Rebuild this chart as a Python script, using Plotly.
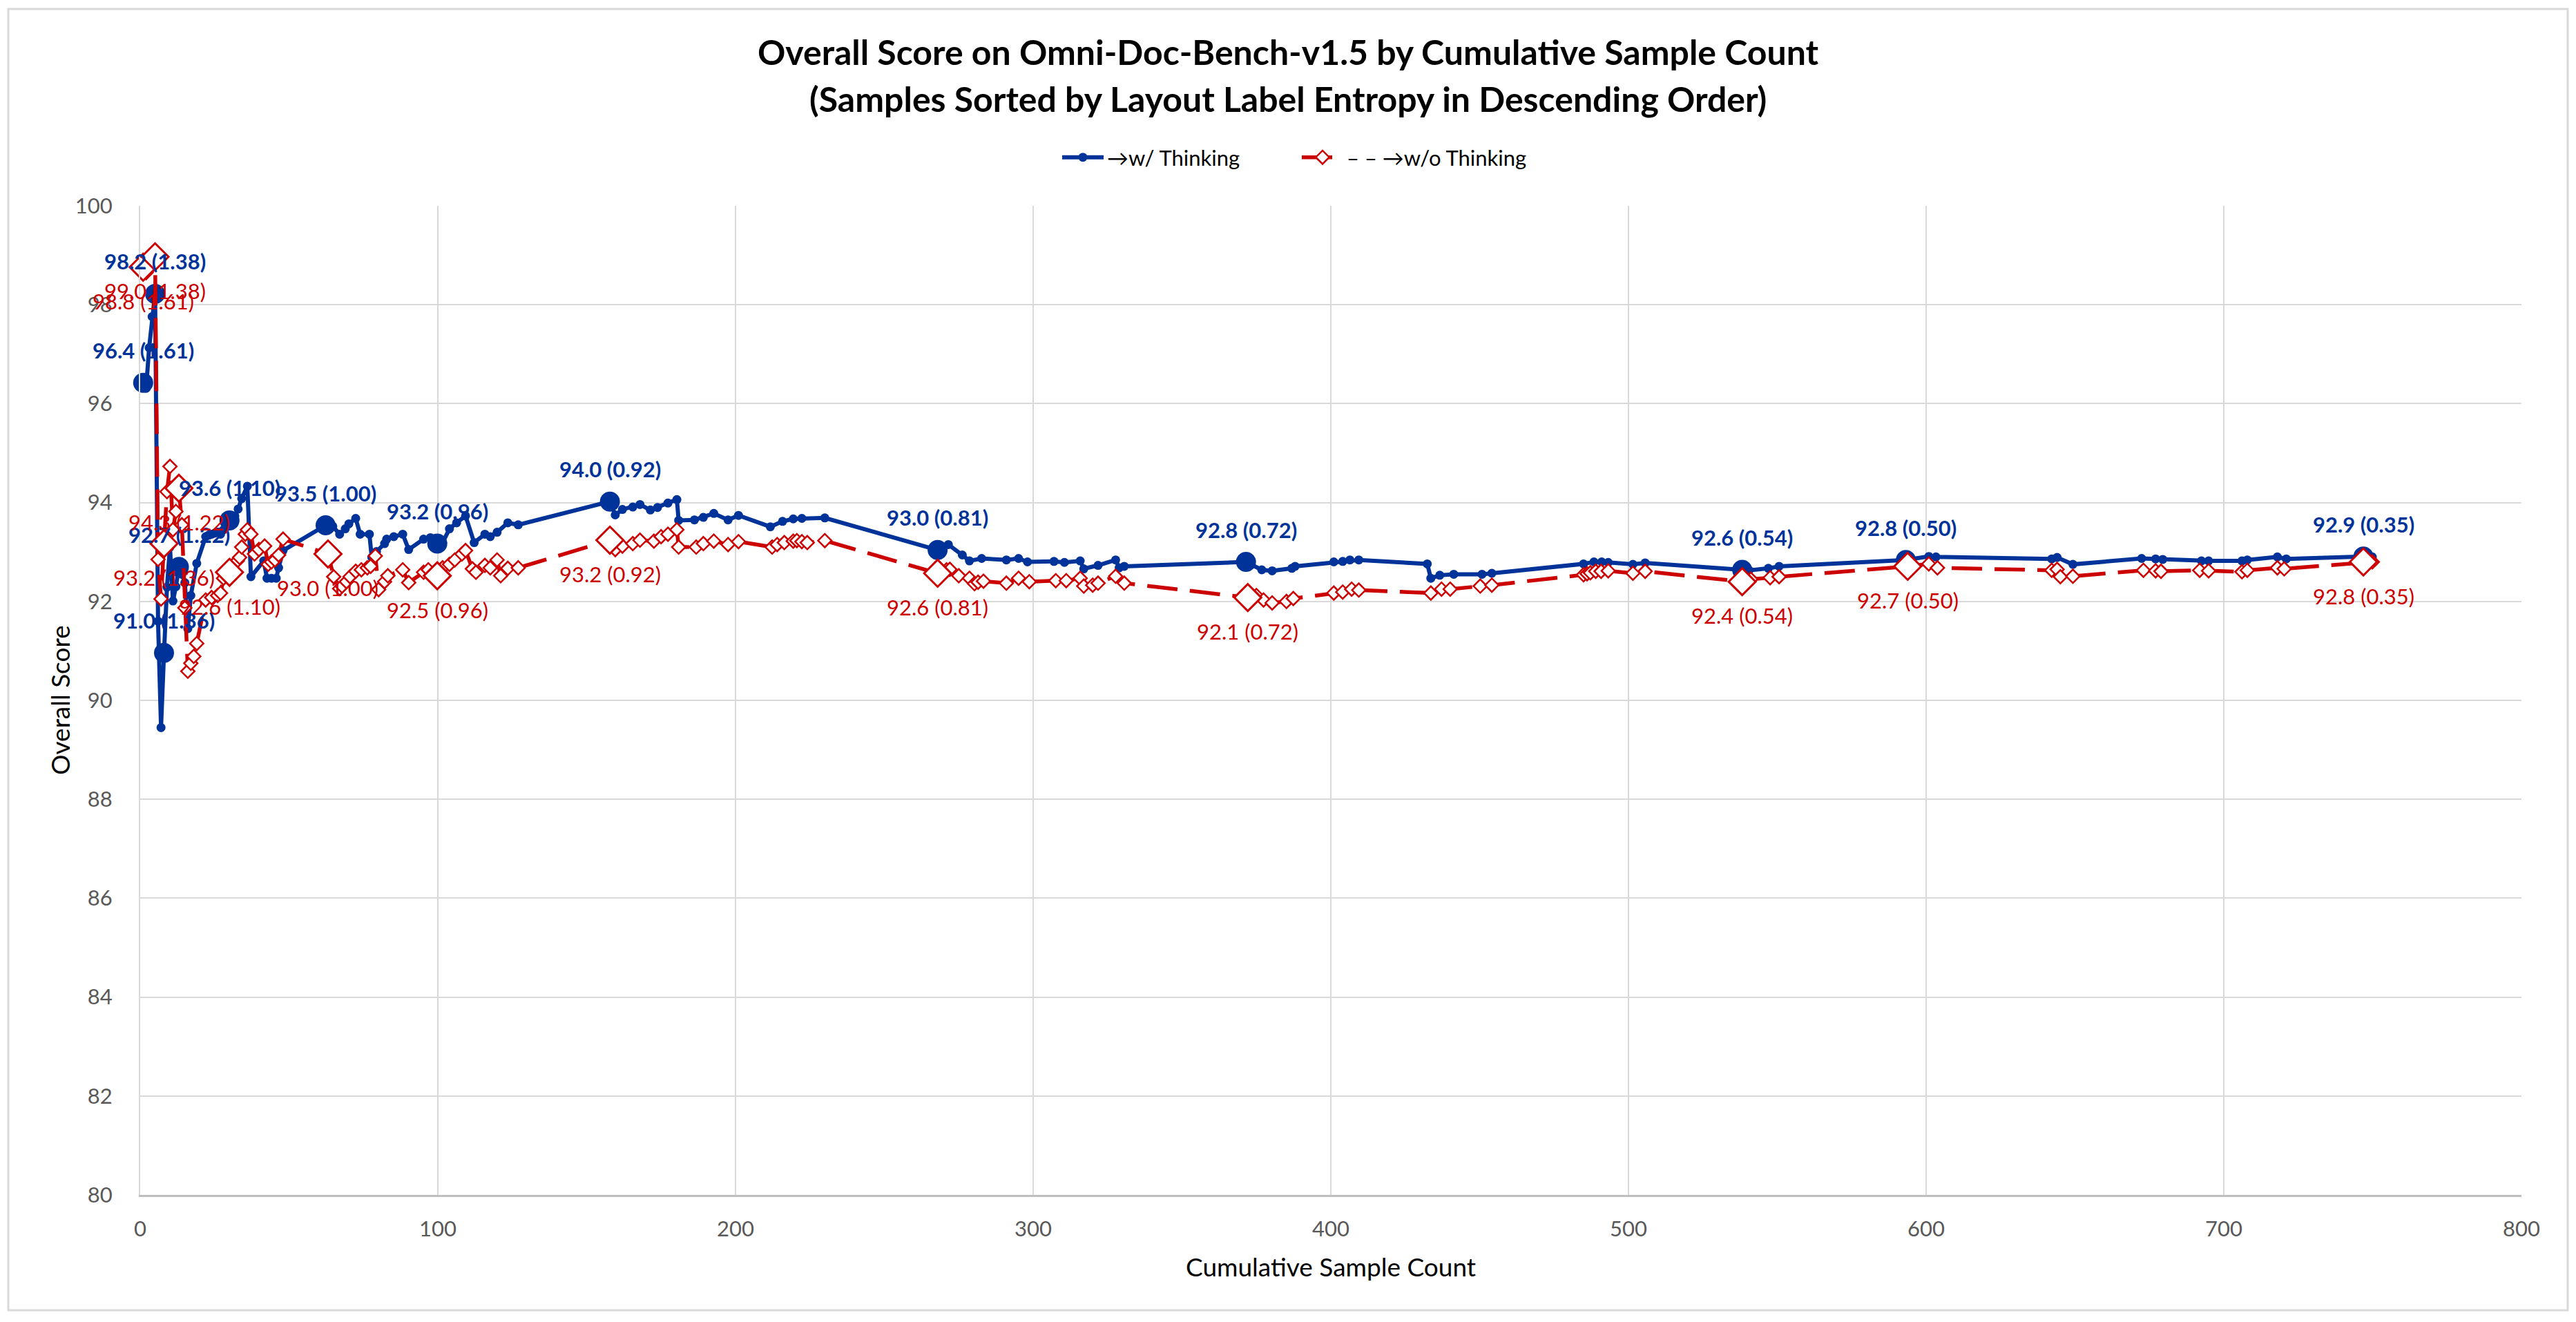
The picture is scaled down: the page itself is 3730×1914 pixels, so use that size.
import plotly.graph_objects as go

# ---------------- data ----------------
blue_x = [1, 2, 3, 4, 5, 6, 7, 8, 9, 10, 11, 12, 13, 14, 15, 16, 17, 19, 22, 23, 24, 25, 26, 27, 28, 29, 30,
          31.8, 32.9, 34.1, 36.0, 37.2, 41.5, 42.6, 44.1, 45.7, 46.5, 48.0, 62.3, 64.7, 67.0, 68.9, 70.1, 72.4,
          73.9, 77.0, 77.8, 79.4, 82.1, 82.8, 85.2, 88.2, 90.2, 95.2, 97.5, 99.8, 101.6, 103.9, 106.3, 109.3,
          112.2, 115.8, 117.6, 119.9, 123.5, 127.0, 157.8, 159.6, 162.0, 165.5, 167.9, 171.4, 173.8, 177.3,
          180.3, 180.9, 186.2, 189.2, 192.7, 197.5, 201.0, 211.7, 215.8, 219.4, 222.3, 230.0, 267.9, 271.5,
          276.2, 278.6, 282.7, 291.0, 295.1, 298.1, 307.0, 310.5, 315.8, 317.0, 321.8, 327.7, 328.9, 330.6,
          371.5, 376.8, 380.3, 386.9, 388.0, 401.0, 404.0, 406.4, 409.4, 432.4, 433.6, 436.6, 441.3, 450.8,
          454.1, 484.9, 488.4, 491.0, 493.2, 501.5, 505.6, 538.2, 540.5, 547.0, 550.6, 593.2, 600.9, 603.3,
          642.2, 644.0, 649.3, 672.4, 677.1, 679.5, 692.5, 694.9, 706.1, 707.9, 718.0, 721.0, 746.9, 749.9]
blue_y = [96.42, 96.31, 97.13, 97.76, 98.22, 91.6, 89.45, 90.96, 92.29, 93.10, 92.01, 92.30, 92.70, 92.55, 92.38,
          91.45, 92.12, 92.77, 93.31, 93.34, 93.36, 93.38, 93.40, 93.36, 93.45, 93.55, 93.64,
          93.73, 93.87, 94.08, 94.33, 92.50, 92.82, 92.47, 92.47, 92.47, 92.68, 93.03, 93.54, 93.52, 93.36, 93.47, 93.57, 93.68,
          93.36, 93.36, 92.89, 93.01, 93.17, 93.26, 93.31, 93.36, 93.05, 93.26, 93.29, 93.17, 93.19, 93.47, 93.59, 93.73,
          93.19, 93.36, 93.31, 93.40, 93.59, 93.55, 94.02, 93.75, 93.86, 93.91, 93.96, 93.85, 93.90, 93.99,
          94.06, 93.64, 93.65, 93.70, 93.78, 93.65, 93.74, 93.51, 93.62, 93.67, 93.68, 93.69, 93.04, 93.15,
          92.94, 92.82, 92.87, 92.84, 92.87, 92.80, 92.81, 92.79, 92.82, 92.66, 92.73, 92.84, 92.68, 92.71,
          92.80, 92.64, 92.62, 92.67, 92.71, 92.80, 92.81, 92.84, 92.84, 92.76, 92.47, 92.53, 92.55, 92.55,
          92.57, 92.76, 92.80, 92.80, 92.79, 92.75, 92.78, 92.64, 92.63, 92.67, 92.71, 92.84, 92.91, 92.90,
          92.86, 92.89, 92.75, 92.87, 92.86, 92.85, 92.82, 92.82, 92.82, 92.84, 92.90, 92.86, 92.91, 92.90]

red_x = [1, 2, 3, 4, 5, 6, 7, 8, 9, 10, 11, 12, 13, 14, 15, 16, 17, 18, 19, 22, 24, 26, 27, 28, 30,
         32.6, 33.4, 34.1, 35.3, 36.0, 37.2, 38.4, 39.9, 41.8, 43.0, 44.1, 45.3, 46.5, 48.0, 63.1, 65.0,
         67.0, 67.8, 69.3, 70.5, 72.4, 74.3, 76.3, 77.4, 79.0, 80.1, 82.1, 83.2, 88.2, 90.2, 95.2, 96.8,
         99.8, 101.6, 103.9, 105.7, 108.1, 109.3, 111.6, 112.8, 115.8, 117.6, 119.9, 121.1, 123.5, 127.0,
         157.8, 159.6, 162.0, 165.5, 167.9, 172.6, 175.0, 177.3, 180.3, 180.9, 186.8, 189.2, 192.7, 197.5,
         201.0, 212.3, 214.0, 216.4, 219.4, 220.6, 222.3, 224.1, 230.0, 267.9, 270.9, 272.0, 275.0, 278.6,
         280.3, 281.5, 283.3, 291.0, 295.1, 298.7, 307.6, 311.1, 315.8, 317.0, 320.0, 321.8, 327.7, 330.6,
         372.1, 375.0, 377.4, 380.3, 385.1, 387.4, 401.0, 404.0, 407.0, 409.4, 433.6, 437.2, 440.1, 450.2,
         454.1, 484.9, 486.1, 487.2, 489.0, 490.8, 493.2, 501.5, 505.6, 538.2, 541.1, 547.6, 550.6, 593.8,
         600.9, 603.8, 642.2, 644.0, 645.1, 649.3, 673.0, 677.1, 678.9, 691.9, 694.9, 706.1, 707.9, 718.0,
         720.3, 746.9, 749.9]
red_y = [98.76, 98.65, 98.73, 98.85, 98.97, 92.85, 92.05, 93.17, 94.22, 94.73, 93.45, 93.82, 94.29, 93.55, 91.87,
         90.59, 90.75, 90.89, 91.15, 92.03, 92.08, 92.12, 92.17, 92.47, 92.59,
         92.82, 92.89, 93.10, 93.36, 93.45, 93.36, 92.96, 93.05, 93.12, 92.75, 92.80, 92.84, 92.94, 93.26, 92.96, 92.50,
         92.26, 92.31, 92.40, 92.50, 92.61, 92.64, 92.68, 92.71, 92.92, 92.24, 92.40, 92.52, 92.64, 92.38, 92.59, 92.64,
         92.52, 92.68, 92.75, 92.84, 92.96, 93.03, 92.66, 92.59, 92.73, 92.68, 92.84, 92.52, 92.67, 92.68,
         93.24, 93.05, 93.12, 93.17, 93.24, 93.22, 93.31, 93.36, 93.45, 93.10, 93.10, 93.17, 93.22, 93.15,
         93.21, 93.10, 93.15, 93.19, 93.22, 93.23, 93.21, 93.19, 93.23, 92.57, 92.64, 92.65, 92.52, 92.47,
         92.36, 92.39, 92.41, 92.37, 92.47, 92.40, 92.42, 92.42, 92.47, 92.31, 92.33, 92.37, 92.51, 92.37,
         92.08, 92.12, 92.03, 91.97, 92.00, 92.06, 92.17, 92.19, 92.25, 92.23, 92.17, 92.25, 92.25, 92.31,
         92.33, 92.54, 92.56, 92.58, 92.61, 92.61, 92.62, 92.57, 92.61, 92.40, 92.45, 92.48, 92.50, 92.71,
         92.76, 92.68, 92.63, 92.65, 92.50, 92.51, 92.63, 92.62, 92.61, 92.63, 92.62, 92.60, 92.63, 92.68,
         92.66, 92.80, 92.80]

# points where the layout-label entropy changes (labelled points)
entropy_labels = ["1.61", "1.38", "1.36", "1.22", "1.10", "1.00", "0.96", "0.92", "0.81", "0.72", "0.54", "0.50", "0.35"]
blue_label_x = [1, 5, 8, 13, 30, 62.3, 99.8, 157.8, 267.9, 371.5, 538.2, 593.2, 746.9]
red_label_x = [1, 5, 8, 13, 30, 63.1, 99.8, 157.8, 267.9, 372.1, 538.2, 593.8, 746.9]

x_ticks = [0, 100, 200, 300, 400, 500, 600, 700, 800]
y_ticks = [80, 82, 84, 86, 88, 90, 92, 94, 96, 98, 100]

title_line1 = "Overall Score on Omni-Doc-Bench-v1.5 by Cumulative Sample Count"
title_line2 = "(Samples Sorted by Layout Label Entropy in Descending Order)"
name_blue = "→w/ Thinking"
name_red = "– – →w/o Thinking"
x_title = "Cumulative Sample Count"
y_title = "Overall Score"

# ---------------- styling ----------------
BLUE = "#003399"
RED = "#CC0000"
GRID = "#D9D9D9"
FONT = "Lato, 'Open Sans', sans-serif"

W, H = 3730, 1914
ML, MR, MT, MB = 203, 79, 298, 184
PW, PH = W - ML - MR, H - MT - MB


def px_x(p):
    return (p - ML) / PW


def px_y(p):
    return (H - MB - p) / PH


blue_idx = [blue_x.index(v) for v in blue_label_x]
red_idx = [red_x.index(v) for v in red_label_x]

fig = go.Figure()

fig.add_trace(go.Scatter(
    x=blue_x, y=blue_y, mode="lines+markers", name=name_blue,
    line=dict(color=BLUE, width=6),
    marker=dict(symbol="circle", size=13, color=BLUE),
    cliponaxis=False,
))
fig.add_trace(go.Scatter(
    x=[blue_x[i] for i in blue_idx], y=[blue_y[i] for i in blue_idx], mode="markers",
    showlegend=False, marker=dict(symbol="circle", size=29, color=BLUE), cliponaxis=False,
))
fig.add_trace(go.Scatter(
    x=red_x, y=red_y, mode="lines+markers", name=name_red,
    line=dict(color=RED, width=5.5, dash="44px,18px"),
    marker=dict(symbol="diamond", size=15, color="white", line=dict(color=RED, width=2.5)),
    cliponaxis=False,
))
fig.add_trace(go.Scatter(
    x=[red_x[i] for i in red_idx], y=[red_y[i] for i in red_idx], mode="markers",
    showlegend=False,
    marker=dict(symbol="diamond", size=30, color="white", line=dict(color=RED, width=3)),
    cliponaxis=False,
))

annotations = []
for k, i in enumerate(blue_idx):
    annotations.append(dict(
        x=blue_x[i], y=blue_y[i], xref="x", yref="y", showarrow=False,
        text="<b>%.1f (%s)</b>" % (blue_y[i], entropy_labels[k]),
        font=dict(family=FONT, size=31, color=BLUE), yshift=47,
        xanchor="center", yanchor="middle",
    ))
for k, i in enumerate(red_idx):
    annotations.append(dict(
        x=red_x[i], y=red_y[i], xref="x", yref="y", showarrow=False,
        text="%.1f (%s)" % (red_y[i], entropy_labels[k]),
        font=dict(family=FONT, size=31, color=RED), yshift=-49,
        xanchor="center", yanchor="middle",
    ))
# title lines
annotations.append(dict(x=px_x(1865), y=px_y(75), xref="paper", yref="paper", showarrow=False,
                        text="<b>" + title_line1 + "</b>", xanchor="center", yanchor="middle",
                        font=dict(family=FONT, size=50, color="#000000")))
annotations.append(dict(x=px_x(1865), y=px_y(143), xref="paper", yref="paper", showarrow=False,
                        text="<b>" + title_line2 + "</b>", xanchor="center", yanchor="middle",
                        font=dict(family=FONT, size=50, color="#000000")))
# axis titles
annotations.append(dict(x=px_x(86), y=0.5, xref="paper", yref="paper", showarrow=False,
                        text=y_title, textangle=-90, xanchor="center", yanchor="middle",
                        font=dict(family=FONT, size=37, color="#000000")))
annotations.append(dict(x=0.5, y=px_y(1833), xref="paper", yref="paper", showarrow=False,
                        text=x_title, xanchor="center", yanchor="middle",
                        font=dict(family=FONT, size=37, color="#000000")))

fig.update_layout(
    width=W, height=H,
    margin=dict(l=ML, r=MR, t=MT, b=MB, pad=0),
    paper_bgcolor="white", plot_bgcolor="white",
    font=dict(family=FONT, color="#000000"),
    legend=dict(orientation="h", x=px_x(1880), xanchor="center",
                y=px_y(228), yanchor="middle",
                font=dict(family=FONT, size=31, color="#000000"),
                bgcolor="rgba(0,0,0,0)", itemwidth=60, tracegroupgap=0,
                entrywidth=272, entrywidthmode="pixels"),
    annotations=annotations,
    shapes=[dict(type="rect", xref="paper", yref="paper",
                 x0=px_x(12), x1=px_x(3718), y0=px_y(1897), y1=px_y(13),
                 line=dict(color=GRID, width=3), fillcolor="rgba(0,0,0,0)", layer="below")],
    showlegend=True,
)

fig.update_xaxes(
    range=[0, 800], tickvals=x_ticks, ticktext=[str(v) for v in x_ticks],
    showgrid=True, gridcolor=GRID, gridwidth=2, zeroline=False,
    showline=True, linecolor="#BFBFBF", linewidth=3,
    ticks="", ticklabelstandoff=20,
    tickfont=dict(family=FONT, size=31, color="#595959"),
)
fig.update_yaxes(
    range=[80, 100], tickvals=y_ticks, ticktext=[str(v) for v in y_ticks],
    showgrid=True, gridcolor=GRID, gridwidth=2, zeroline=False,
    showline=True, linecolor=GRID, linewidth=2,
    ticks="", ticklabelstandoff=32,
    tickfont=dict(family=FONT, size=31, color="#595959"),
)

fig.write_html("out.html", config={"displayModeBar": False},
               post_script="document.body.style.margin='0px';document.body.style.overflow='hidden';")
